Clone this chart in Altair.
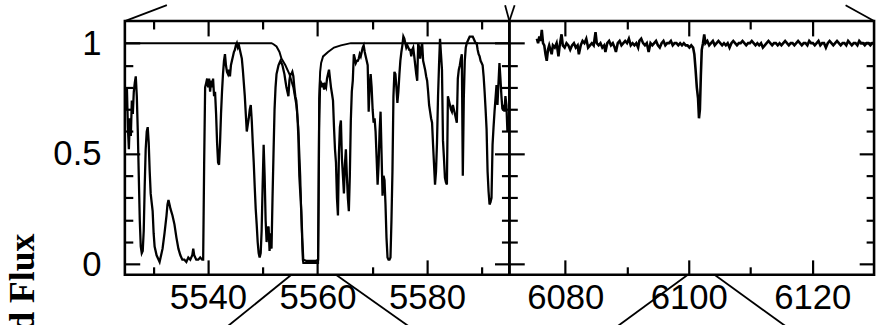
import altair as alt
import pandas as pd

SANS = "Liberation Sans"
SERIF = "Liberation Serif"

# ---- blue window: observed spectrum (wavelength in Angstrom, normalized flux)
blue_wave = [
    5525.03, 5525.21, 5525.39, 5525.57, 5525.75, 5525.93, 5526.11, 5526.29, 5526.47, 5526.65,
    5526.83, 5527.02, 5527.20, 5527.38, 5527.56, 5527.74, 5527.92, 5528.10, 5528.28, 5528.46,
    5528.64, 5528.83, 5529.01, 5529.19, 5529.37, 5529.55, 5529.73, 5529.91, 5530.09, 5530.27,
    5530.63, 5531.00, 5531.18, 5531.36, 5531.72, 5532.08, 5532.44, 5532.62, 5532.80, 5532.99,
    5533.17, 5533.53, 5533.89, 5534.25, 5534.61, 5534.97, 5535.33, 5535.70, 5536.06, 5536.42,
    5536.78, 5537.14, 5537.32, 5537.50, 5537.87, 5538.23, 5538.59, 5538.95, 5539.13, 5539.31,
    5539.49, 5539.68, 5539.86, 5540.04, 5540.22, 5540.40, 5540.58, 5540.76, 5540.94, 5541.12,
    5541.30, 5541.49, 5541.67, 5541.85, 5542.03, 5542.21, 5542.39, 5542.57, 5542.75, 5542.93,
    5543.11, 5543.29, 5543.48, 5543.66, 5543.84, 5544.02, 5544.20, 5544.38, 5544.56, 5544.74,
    5544.92, 5545.10, 5545.28, 5545.47, 5545.65, 5545.83, 5546.01, 5546.19, 5546.37, 5546.55,
    5546.73, 5546.91, 5547.09, 5547.27, 5547.45, 5547.64, 5547.82, 5548.00, 5548.18, 5548.36,
    5548.54, 5548.72, 5548.90, 5549.08, 5549.26, 5549.44, 5549.63, 5549.80, 5549.98, 5550.17,
    5550.35, 5550.53, 5550.71, 5550.89, 5551.07, 5551.25, 5551.43, 5551.61, 5551.79, 5551.97,
    5552.16, 5552.34, 5552.52, 5552.70, 5552.88, 5553.06, 5553.24, 5553.42, 5553.60, 5553.78,
    5553.96, 5554.14, 5554.33, 5554.51, 5554.69, 5554.87, 5555.05, 5555.23, 5555.41, 5555.59,
    5555.77, 5555.95, 5556.13, 5556.32, 5556.50, 5556.68, 5556.86, 5557.04, 5557.22, 5557.40,
    5557.94, 5558.85, 5559.75, 5560.11, 5560.29, 5560.48, 5560.66, 5560.84, 5561.02, 5561.20,
    5561.38, 5561.56, 5561.74, 5561.92, 5562.10, 5562.28, 5562.46, 5562.65, 5562.83, 5563.01,
    5563.19, 5563.37, 5563.55, 5563.73, 5563.91, 5564.09, 5564.27, 5564.45, 5564.64, 5564.82,
    5565.00, 5565.18, 5565.36, 5565.54, 5565.72, 5565.90, 5566.08, 5566.26, 5566.44, 5566.63,
    5566.81, 5566.99, 5567.17, 5567.35, 5567.53, 5567.71, 5567.89, 5568.07, 5568.25, 5568.43,
    5568.62, 5568.80, 5568.98, 5569.16, 5569.34, 5569.52, 5569.70, 5569.88, 5570.06, 5570.24,
    5570.42, 5570.60, 5570.79, 5570.97, 5571.15, 5571.33, 5571.51, 5571.69, 5571.87, 5572.05,
    5572.23, 5572.41, 5572.59, 5572.78, 5572.96, 5573.14, 5573.32, 5573.50, 5573.68, 5573.86,
    5574.04, 5574.22, 5574.40, 5574.58, 5574.76, 5574.95, 5575.12, 5575.31, 5575.49, 5575.67,
    5575.85, 5576.03, 5576.21, 5576.39, 5576.57, 5576.75, 5576.93, 5577.11, 5577.29, 5577.47,
    5577.66, 5577.84, 5578.02, 5578.20, 5578.38, 5578.56, 5578.74, 5578.92, 5579.10, 5579.28,
    5579.46, 5579.64, 5579.83, 5580.01, 5580.19, 5580.37, 5580.55, 5580.73, 5580.91, 5581.09,
    5581.27, 5581.45, 5581.63, 5581.81, 5582.00, 5582.18, 5582.36, 5582.54, 5582.72, 5582.90,
    5583.08, 5583.26, 5583.44, 5583.62, 5583.80, 5583.98, 5584.17, 5584.35, 5584.53, 5584.71,
    5584.89, 5585.07, 5585.25, 5585.43, 5585.61, 5585.79, 5585.98, 5586.16, 5586.34, 5586.52,
    5586.70, 5586.88, 5587.06, 5587.24, 5587.42, 5587.60, 5587.78, 5587.97, 5588.15, 5588.33,
    5588.51, 5588.69, 5588.87, 5589.05, 5589.23, 5589.41, 5589.59, 5589.77, 5589.96, 5590.14,
    5590.32, 5590.50, 5590.68, 5590.86, 5591.04, 5591.22, 5591.40, 5591.58, 5591.76, 5591.95,
    5592.13, 5592.31, 5592.49, 5592.67, 5592.85, 5593.03, 5593.21, 5593.39, 5593.57, 5593.75,
    5593.94, 5594.12, 5594.30, 5594.48, 5594.66,
]
blue_flux = [
    0.70, 0.80, 0.62, 0.52, 0.66, 0.58, 0.74, 0.68, 0.78, 0.82,
    0.85, 0.76, 0.60, 0.40, 0.20, 0.08, 0.05, 0.06, 0.15, 0.35,
    0.52, 0.60, 0.62, 0.55, 0.42, 0.32, 0.28, 0.24, 0.14, 0.08,
    0.04, 0.02, 0.01, 0.03, 0.07, 0.14, 0.22, 0.27, 0.29, 0.27,
    0.25, 0.22, 0.18, 0.12, 0.07, 0.04, 0.02, 0.02, 0.01, 0.03,
    0.02, 0.04, 0.07, 0.04, 0.02, 0.02, 0.03, 0.02, 0.02, 0.45,
    0.80, 0.82, 0.84, 0.80, 0.84, 0.78, 0.83, 0.80, 0.84, 0.76,
    0.78, 0.68, 0.55, 0.46, 0.45, 0.55, 0.68, 0.78, 0.86, 0.92,
    0.95, 0.90, 0.87, 0.86, 0.88, 0.85, 0.90, 0.92, 0.94, 0.96,
    0.97, 0.99, 1.00, 0.98, 0.99, 0.97, 0.95, 0.93, 0.88, 0.82,
    0.76, 0.68, 0.60, 0.63, 0.66, 0.70, 0.72, 0.65, 0.55, 0.46,
    0.35, 0.25, 0.18, 0.10, 0.05, 0.03, 0.05, 0.15, 0.35, 0.54,
    0.40, 0.20, 0.10, 0.16, 0.17, 0.06, 0.14, 0.07, 0.30, 0.50,
    0.70, 0.80, 0.86, 0.88, 0.90, 0.91, 0.92, 0.91, 0.90, 0.88,
    0.86, 0.83, 0.80, 0.78, 0.76, 0.83, 0.86, 0.86, 0.87, 0.85,
    0.80, 0.76, 0.74, 0.68, 0.58, 0.40, 0.32, 0.24, 0.12, 0.02,
    0.015, 0.015, 0.015, 0.02, 0.60, 0.83, 0.82, 0.80, 0.82, 0.79,
    0.81, 0.80, 0.84, 0.86, 0.88, 0.84, 0.80, 0.77, 0.74, 0.62,
    0.52, 0.46, 0.30, 0.22, 0.50, 0.62, 0.65, 0.48, 0.40, 0.32,
    0.45, 0.52, 0.40, 0.30, 0.24, 0.40, 0.65, 0.78, 0.83, 0.95,
    0.93, 0.91, 0.92, 0.92, 0.93, 0.95, 0.94, 0.96, 0.98, 0.99,
    0.96, 0.94, 0.92, 0.90, 0.69, 0.80, 0.86, 0.80, 0.70, 0.64,
    0.66, 0.60, 0.48, 0.36, 0.45, 0.60, 0.69, 0.50, 0.31, 0.40,
    0.38, 0.27, 0.12, 0.03, 0.02, 0.02, 0.03, 0.20, 0.42, 0.76,
    0.87, 0.86, 0.80, 0.73, 0.78, 0.86, 0.92, 0.96, 0.99, 1.03,
    1.02, 1.00, 0.98, 0.99, 0.98, 0.97, 0.97, 0.94, 0.97, 0.98,
    0.94, 0.90, 0.86, 0.83, 1.00, 0.98, 0.93, 0.98, 1.00, 0.92,
    0.90, 0.88, 0.85, 0.83, 0.78, 0.72, 0.69, 0.66, 0.64, 0.54,
    0.45, 0.36, 0.42, 0.55, 0.76, 0.90, 1.02, 0.95, 0.88, 0.56,
    0.48, 0.39, 0.37, 0.36, 0.76, 0.74, 0.72, 0.70, 0.69, 0.72,
    0.70, 0.68, 0.66, 0.64, 0.84, 0.88, 0.90, 0.93, 0.95, 0.40,
    0.75, 0.92, 0.98, 1.00, 1.01, 1.02, 1.03, 1.03, 1.03, 1.03,
    1.02, 1.01, 1.00, 1.00, 0.97, 0.95, 0.94, 0.92, 0.91, 0.90,
    0.85, 0.78, 0.70, 0.61, 0.42, 0.33, 0.27, 0.28, 0.30, 0.54,
    0.62, 0.69, 0.75, 0.81, 0.72, 0.82, 0.91, 0.84, 0.76, 0.70,
    0.72, 0.69, 0.76, 0.72, 0.60,
]

# ---- damped absorber model drawn over the blue window
model_wave = [5524.84, 5551.61, 5551.97, 5552.52, 5553.06, 5553.42, 5554.14, 5554.87,
              5555.59, 5556.13, 5556.50, 5556.86, 5557.13, 5557.31, 5557.40, 5560.11,
              5560.20, 5560.29, 5560.48, 5560.66, 5561.02, 5561.92, 5563.01, 5564.27,
              5566.08, 5595.02]
model_flux = [1.0, 1.0, 0.995, 0.985, 0.96, 0.93, 0.90, 0.86,
              0.80, 0.72, 0.62, 0.40, 0.15, 0.02, 0.005, 0.005,
              0.30, 0.75, 0.87, 0.91, 0.94, 0.96, 0.98, 0.99,
              1.0, 1.0]

# ---- red window: observed spectrum
red_wave = [
    6075.4, 6075.6, 6075.8, 6076.0, 6076.2, 6076.4, 6076.6, 6076.8, 6077.0, 6077.2,
    6077.4, 6077.6, 6077.8, 6078.0, 6078.3, 6078.6, 6078.9, 6079.1, 6079.4, 6079.6,
    6079.9, 6080.2, 6080.5, 6080.8, 6081.1, 6081.4, 6081.7, 6082.0, 6082.2, 6082.5,
    6082.8, 6083.1, 6083.4, 6083.7, 6084.0, 6084.3, 6084.6, 6084.9, 6085.1, 6085.4,
    6085.7, 6086.0, 6086.3, 6086.5, 6086.8, 6087.1, 6087.4, 6087.7, 6088.0, 6088.2,
    6088.5, 6088.8, 6089.1, 6089.4, 6089.7, 6090.0, 6090.3, 6090.6, 6090.9, 6091.2,
    6091.5, 6091.8, 6092.0, 6092.3, 6092.6, 6092.9, 6093.2, 6093.5, 6093.8, 6094.1,
    6094.4, 6094.7, 6095.0, 6095.3, 6095.6, 6095.9, 6096.2, 6096.5, 6096.8, 6097.1,
    6097.4, 6097.7, 6098.0, 6098.3, 6098.6, 6098.9, 6099.2, 6099.5, 6099.8, 6100.1,
    6100.4, 6100.7, 6100.9, 6101.1, 6101.3, 6101.5, 6101.65, 6101.8, 6101.95, 6102.1,
    6102.3, 6102.5, 6102.7, 6103.0, 6103.3, 6103.6, 6103.9, 6104.2, 6104.5, 6104.8,
    6105.1, 6105.4, 6105.7, 6106.0, 6106.3, 6106.6, 6106.9, 6107.2, 6107.5, 6107.8,
    6108.1, 6108.4, 6108.7, 6109.0, 6109.3, 6109.6, 6109.9, 6110.2, 6110.5, 6110.8,
    6111.1, 6111.4, 6111.7, 6112.0, 6112.3, 6112.6, 6112.9, 6113.2, 6113.5, 6113.8,
    6114.1, 6114.4, 6114.7, 6115.0, 6115.3, 6115.6, 6115.9, 6116.2, 6116.5, 6116.8,
    6117.1, 6117.4, 6117.7, 6118.0, 6118.3, 6118.6, 6118.9, 6119.2, 6119.5, 6119.8,
    6120.1, 6120.4, 6120.7, 6121.0, 6121.3, 6121.6, 6121.9, 6122.2, 6122.5, 6122.8,
    6123.1, 6123.4, 6123.7, 6124.0, 6124.3, 6124.6, 6124.9, 6125.2, 6125.5, 6125.8,
    6126.1, 6126.4, 6126.7, 6127.0, 6127.3, 6127.6, 6127.9, 6128.2, 6128.5, 6128.8,
    6129.1, 6129.4, 6129.7, 6130.0,
]
red_flux = [
    1.02, 1.00, 1.03, 1.01, 1.06, 1.00, 0.99, 0.95, 0.92, 0.97,
    0.99, 0.97, 0.95, 0.99, 0.98, 1.00, 0.94, 0.99, 1.04, 0.99,
    0.98, 1.00, 0.99, 0.97, 0.99, 1.00, 0.98, 0.99, 0.95, 0.99,
    1.01, 1.00, 1.02, 0.98, 0.99, 1.00, 0.99, 1.05, 1.00, 0.99,
    1.00, 0.98, 0.99, 0.96, 1.00, 1.01, 0.99, 1.00, 0.98, 0.96,
    1.00, 1.01, 0.99, 1.00, 1.01, 1.00, 1.02, 0.99, 1.00, 0.99,
    1.00, 0.98, 1.01, 1.02, 1.00, 0.99, 1.00, 0.96, 1.00, 0.99,
    1.00, 1.01, 0.99, 0.98, 1.00, 1.01, 0.99, 1.00, 1.00, 1.01,
    0.99, 1.00, 1.00, 0.99, 1.00, 0.99, 1.00, 0.99, 0.99, 0.98,
    0.99, 0.98, 0.95, 0.88, 0.80, 0.75, 0.66, 0.70, 0.85, 0.97,
    1.00, 1.04, 1.00, 1.01, 0.99, 1.00, 1.01, 0.99, 1.00, 1.01,
    1.00, 0.99, 1.00, 0.99, 1.00, 0.98, 1.00, 1.01, 1.00, 0.99,
    1.00, 1.00, 1.01, 1.00, 0.99, 1.00, 1.00, 1.01, 1.00, 0.99,
    1.00, 0.99, 1.00, 0.98, 0.99, 1.00, 1.01, 1.00, 0.99, 1.00,
    1.00, 0.99, 1.00, 0.99, 1.00, 1.01, 1.00, 0.99, 1.00, 1.00,
    0.99, 1.00, 1.01, 1.00, 0.99, 1.00, 1.00, 0.99, 1.01, 1.00,
    1.00, 0.99, 1.00, 1.01, 0.99, 1.00, 1.00, 0.98, 1.00, 1.01,
    1.00, 0.99, 1.00, 1.01, 1.00, 0.99, 1.00, 1.00, 0.99, 1.01,
    1.00, 0.99, 1.00, 1.00, 0.99, 1.01, 1.00, 1.00, 0.99, 1.00,
    1.00, 0.99, 1.00, 1.00,
]

# ---- axis ranges and tick positions
blue_range = [5524.84, 5595.02]
red_range = [6070.95, 6130.0]
flux_range = [-0.048, 1.10]
blue_major = [5540, 5560, 5580]
blue_minor = [5530, 5550, 5570, 5590]
red_major = [6080, 6100, 6120]
red_minor = [6090, 6110]
flux_major = [0, 0.5, 1]
flux_minor = [0.1, 0.2, 0.3, 0.4, 0.6, 0.7, 0.8, 0.9]

# ---- zoom connectors (start and end in wavelength / flux)
blue_low_links = {"wave": [5555.23, 5563.37], "wave2": [5543.38, 5576.90],
                  "flux": [-0.048, -0.048], "flux2": [-0.2857, -0.2857]}
blue_high_links = {"wave": [5524.84, 5595.02], "wave2": [5532.51, 5594.24],
                   "flux": [1.10, 1.10], "flux2": [1.1717, 1.1717]}
red_low_links = {"wave": [6099.84, 6104.17], "wave2": [6088.24, 6115.92],
                 "flux": [-0.048, -0.048], "flux2": [-0.2857, -0.2857]}
red_high_left = {"wave": [6070.95], "wave2": [6071.80], "flux": [1.10], "flux2": [1.1717]}
red_high_right = {"wave": [6130.0], "wave2": [6125.39], "flux": [1.10], "flux2": [1.1717]}

MAJOR, MINOR = 15, 8


def x_axis(orient, values, length, labelled=False):
    kw = dict(orient=orient, values=values, tickSize=length, offset=-length,
              domain=False, grid=False, ticks=True, tickColor="black",
              tickWidth=2.2, labels=labelled)
    if labelled:
        kw.update(format="d", labelFont=SANS, labelFontSize=35, labelColor="black",
                  labelPadding=6, labelFlush=False, labelOverlap=False)
    return alt.Axis(**kw)


def y_axis(orient, values, length, labelled=False, titled=False):
    kw = dict(orient=orient, values=values, tickSize=length, offset=-length,
              domain=False, grid=False, ticks=True, tickColor="black",
              tickWidth=2.2, labels=labelled)
    if labelled:
        kw.update(format="~g", labelFont=SANS, labelFontSize=35, labelColor="black",
                  labelPadding=24, labelFlush=False, labelOverlap=False)
    if titled:
        kw.update(titleFont=SERIF, titleFontSize=36, titleFontWeight="bold",
                  titleColor="black", titleAngle=270, titleAlign="right",
                  titleBaseline="alphabetic", titleX=-107, titleY=214)
    return alt.Axis(**kw)


def line_layer(df, xs, ys, xax, yax, width, ytitle=None):
    y_kw = dict(scale=ys, axis=yax)
    y_kw["title"] = ytitle
    return alt.Chart(df).mark_line(color="black", strokeWidth=width,
                                   strokeJoin="miter").encode(
        x=alt.X("wave:Q", scale=xs, axis=xax, title=None),
        y=alt.Y("flux:Q", **y_kw),
    )


def link_layer(links, xs, ys, xax, yax):
    return alt.Chart(pd.DataFrame(links)).mark_rule(color="black", strokeWidth=1.8).encode(
        x=alt.X("wave:Q", scale=xs, axis=xax, title=None),
        x2="wave2:Q",
        y=alt.Y("flux:Q", scale=ys, axis=yax, title=None),
        y2="flux2:Q",
    )


ys = alt.Scale(domain=flux_range, nice=False, zero=False)

# blue window
bxs = alt.Scale(domain=blue_range, nice=False, zero=False)
blue_df = pd.DataFrame({"wave": blue_wave, "flux": blue_flux})
model_df = pd.DataFrame({"wave": model_wave, "flux": model_flux})
blue = alt.layer(
    line_layer(blue_df, bxs, ys, x_axis("bottom", blue_major, MAJOR, True),
               y_axis("left", flux_major, MAJOR, True, True), 2.3, "Normalized Flux"),
    line_layer(model_df, bxs, ys, x_axis("top", blue_major, MAJOR),
               y_axis("right", flux_major, MAJOR), 2.0),
    link_layer(blue_low_links, bxs, ys, x_axis("bottom", blue_minor, MINOR),
               y_axis("left", flux_minor, MINOR)),
    link_layer(blue_high_links, bxs, ys, x_axis("top", blue_minor, MINOR),
               y_axis("right", flux_minor, MINOR)),
).resolve_axis(x="independent", y="independent").properties(width=388, height=256)

# red window
rxs = alt.Scale(domain=red_range, nice=False, zero=False)
red_df = pd.DataFrame({"wave": red_wave, "flux": red_flux})
red = alt.layer(
    line_layer(red_df, rxs, ys, x_axis("bottom", red_major, MAJOR, True),
               y_axis("left", flux_major, MAJOR), 2.6),
    link_layer(red_low_links, rxs, ys, x_axis("top", red_major, MAJOR),
               y_axis("right", flux_major, MAJOR)),
    link_layer(red_high_left, rxs, ys, x_axis("bottom", red_minor, MINOR),
               y_axis("left", flux_minor, MINOR)),
    link_layer(red_high_right, rxs, ys, x_axis("top", red_minor, MINOR),
               y_axis("right", flux_minor, MINOR)),
).resolve_axis(x="independent", y="independent").properties(width=368, height=256)

chart = alt.hconcat(blue, red, spacing=0, bounds="flush").properties(
    padding={"left": 3, "top": 0, "right": 0, "bottom": 0},
    background="white",
).configure_view(stroke="black", strokeWidth=2.6)

chart.save("out.html", embed_options={"renderer": "svg", "actions": False})
